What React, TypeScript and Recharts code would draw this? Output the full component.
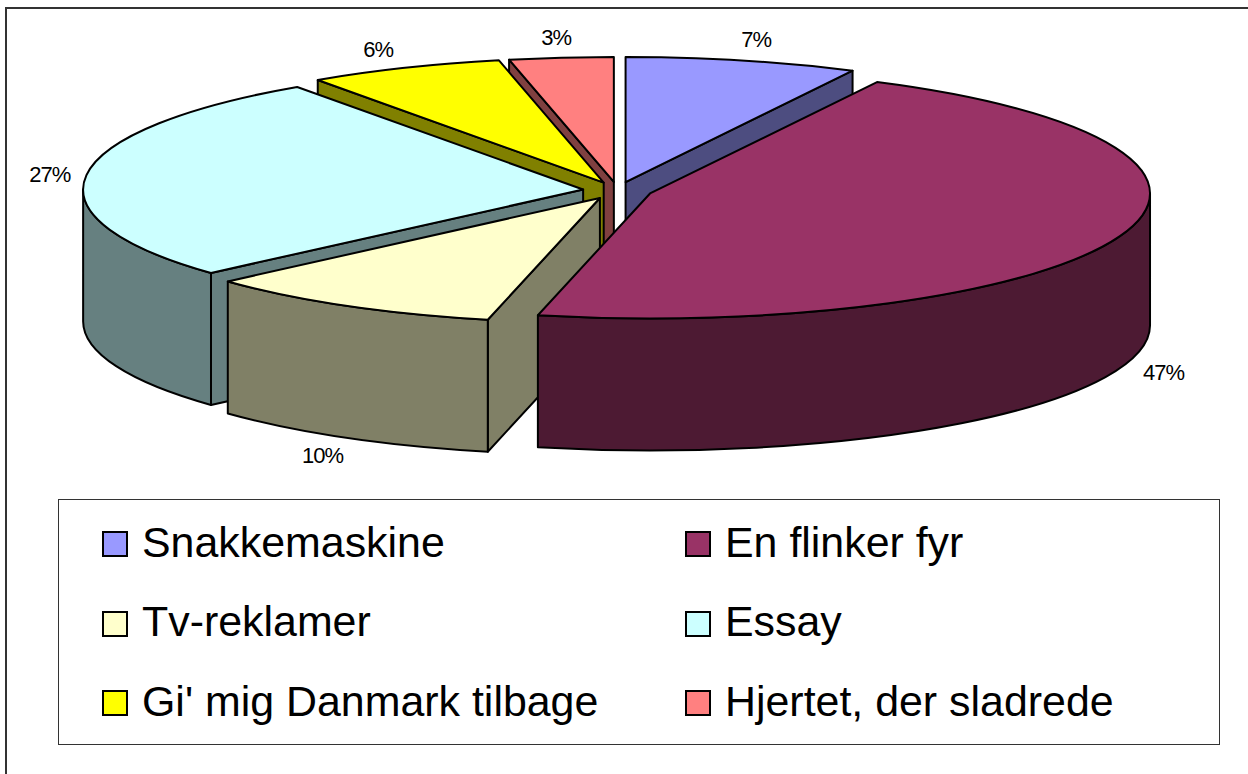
import React from "react";
import { PieChart, Pie, Legend } from "recharts";

const categories = ["Snakkemaskine", "En flinker fyr", "Tv-reklamer", "Essay", "Gi' mig Danmark tilbage", "Hjertet, der sladrede"];
const shares = [7.5, 46.1, 9.76, 26.95, 6.33, 3.36];
const percentLabels = ["7%", "47%", "10%", "27%", "6%", "3%"];
const topColors = ["#9999FF", "#993366", "#FFFFCC", "#CCFFFF", "#FFFF00", "#FF8080"];
const sideColors = ["#4D4D80", "#4D1A33", "#808066", "#668080", "#808000", "#804040"];
const tableData = categories.map((name, i) => ({ name, value: shares[i] }));

// back-to-front painting order of the slices
const paintOrder = [0, 5, 4, 3, 2, 1];
const labelNudges = [[5, -3], [8, -2], [-4, 2], [1, 2], [-11, -1], [-1, -1]];

const RX = 500;
const RY = 125;
const DEPTH = 132;
const EXPLODE = 34.6;
const CX = 617.5;
const CY = 190.5;
const FONT = "'Liberation Sans', Arial, sans-serif";

const rad = (d: number) => (d * Math.PI) / 180;
const geo = (startAngle: number, endAngle: number, cx: number, cy: number) => {
  const t1 = 90 - startAngle;
  const t2 = 90 - endAngle;
  const mid = (t1 + t2) / 2;
  const ax = cx + EXPLODE * Math.sin(rad(mid));
  const ay = cy - (EXPLODE * RY * Math.cos(rad(mid))) / RX;
  const rim = (t: number, dy = 0): [number, number] => [ax + RX * Math.sin(rad(t)), ay - RY * Math.cos(rad(t)) + dy];
  return { t1, t2, mid, ax, ay, rim };
};

const sliceShape = (target: number) => (props: any) => {
  const idx = categories.indexOf(props.name);
  if (idx !== target) return <g />;
  const { t1, t2, ax, ay, rim } = geo(props.startAngle, props.endAngle, props.cx, props.cy);
  const side = sideColors[idx];
  const common = { stroke: "#000", strokeWidth: 2, strokeLinejoin: "round" as const };
  const face = (t: number) => {
    const p = rim(t);
    return `M${ax},${ay}L${p[0]},${p[1]}L${p[0]},${p[1] + DEPTH}L${ax},${ay + DEPTH}Z`;
  };
  const a = Math.max(t1, 90);
  const b = Math.min(t2, 270);
  let wall = "";
  if (b > a) {
    const p = rim(a);
    const q = rim(b);
    wall = `M${p[0]},${p[1]}A${RX},${RY} 0 0 1 ${q[0]},${q[1]}L${q[0]},${q[1] + DEPTH}A${RX},${RY} 0 0 0 ${p[0]},${p[1] + DEPTH}Z`;
  }
  const s = rim(t1);
  const e = rim(t2);
  const large = t2 - t1 > 180 ? 1 : 0;
  const top = `M${ax},${ay}L${s[0]},${s[1]}A${RX},${RY} 0 ${large} 1 ${e[0]},${e[1]}Z`;
  return (
    <g>
      {Math.sin(rad(t1)) < 0 && <path d={face(t1)} fill={side} {...common} />}
      {Math.sin(rad(t2)) > 0 && <path d={face(t2)} fill={side} {...common} />}
      {wall && <path d={wall} fill={side} {...common} />}
      <path d={top} fill={topColors[idx]} {...common} />
    </g>
  );
};

const renderLabel = (props: any) => {
  const idx = categories.indexOf(props.name);
  const { rim, mid } = geo(props.midAngle + 1e-6, props.midAngle - 1e-6, props.cx, props.cy);
  const front = Math.cos(rad(mid)) < 0;
  const p = rim(mid, front ? DEPTH : 0);
  const x = p[0] + 38 * Math.sin(rad(mid)) + labelNudges[idx][0];
  const y = p[1] - 19 * Math.cos(rad(mid)) + labelNudges[idx][1];
  return (
    <text x={x} y={y} textAnchor="middle" dominantBaseline="central" fontFamily={FONT} fontSize={22} letterSpacing={-1} fill="#000">
      {percentLabels[idx]}
    </text>
  );
};

const LegendBox = () => (
  <div style={{ position: "absolute", left: 58, top: 499, width: 1160, height: 244, border: "1.5px solid #333", background: "#fff", boxSizing: "content-box" }}>
    {categories.map((name, i) => {
      const col = i % 2;
      const row = Math.floor(i / 2);
      return (
        <div key={name} style={{ position: "absolute", left: col === 0 ? 42 : 624.5, top: 30 + row * 79.5, height: 26, whiteSpace: "nowrap" }}>
          <div style={{ position: "absolute", left: 1, top: 1, width: 22, height: 22, background: topColors[i], border: "2px solid #000" }} />
          <div style={{ position: "absolute", left: col === 0 ? 41 : 41.5, top: -10.5, lineHeight: "44px", fontSize: 42.9, color: "#000", fontFamily: FONT }}>{name}</div>
        </div>
      );
    })}
  </div>
);

export default function App() {
  return (
    <div style={{ position: "absolute", left: 0, top: 0, width: 1248, height: 774, background: "#fff", overflow: "hidden" }}>
      <div style={{ position: "absolute", left: 5, top: 7, width: 1243, height: 767, borderLeft: "2px solid #333", borderTop: "2px solid #333", boxSizing: "border-box" }} />
      <PieChart width={1248} height={774} margin={{ top: 0, right: 0, bottom: 0, left: 0 }} style={{ position: "absolute", left: 0, top: 0 }}>
        {paintOrder.map((target, k) => (
          <Pie
            key={target}
            data={tableData}
            dataKey="value"
            nameKey="name"
            cx={CX}
            cy={CY}
            innerRadius={0}
            outerRadius={RX}
            startAngle={90}
            endAngle={-270}
            paddingAngle={0}
            isAnimationActive={false}
            shape={sliceShape(target)}
            labelLine={false}
            label={k === paintOrder.length - 1 ? renderLabel : false}
          />
        ))}
        <Legend content={() => <LegendBox />} wrapperStyle={{ position: "absolute", left: 0, top: 0, bottom: "auto", width: 0, height: 0 }} />
      </PieChart>
    </div>
  );
}
